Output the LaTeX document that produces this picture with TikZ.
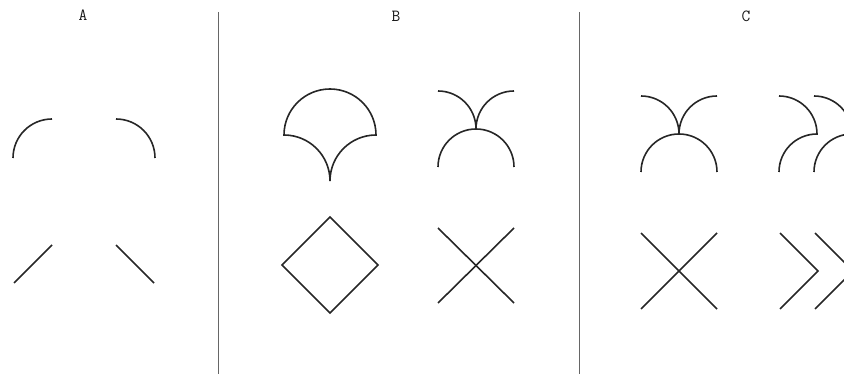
\documentclass[tikz,border=0pt]{standalone}
\usepackage{fontspec}
\setmonofont{Latin Modern Mono}
\begin{document}
\begin{tikzpicture}[x=1pt,y=-1pt,
  figline/.style={draw=black!85,line width=1.6pt,line join=miter},
  divider/.style={draw=black!60,line width=1.2pt},
  lbl/.style={font=\ttfamily\fontsize{17}{17}\selectfont,text=black!90,inner sep=0pt}]
\useasboundingbox (0,0) rectangle (844,374);
\clip (0,0) rectangle (844,374);
% labels
\node[lbl] (la) at (83,15) {A};
\node[lbl] (lb) at (396,16) {B};
\node[lbl] (lc) at (746,16) {C};
% dividers
\draw[divider] (218.5,12) -- (218.5,374);
\draw[divider] (579.5,12) -- (579.5,374);
% Panel A
\draw[figline] (13,158) arc (180:270:39);
\draw[figline] (116,119) arc (270:360:39);
\draw[figline] (14,283) -- (52,245);
\draw[figline] (116,245) -- (154,283);
% Panel B: fan
\draw[figline] (284,135) arc (180:360:46) arc (270:180:46) arc (360:270:46) -- cycle;
% Panel B: arcs
\draw[figline] (438,167) arc (180:360:38);
\draw[figline] (438,91) arc (270:360:38) arc (180:270:38);
% Panel B: diamond
\draw[figline] (330,217) -- (378,265) -- (330,313) -- (282,265) -- cycle;
% Panel B: cross
\draw[figline] (438,228) -- (514,303);
\draw[figline] (514,228) -- (438,303);
% Panel C: arcs
\draw[figline] (641,172) arc (180:360:38);
\draw[figline] (641,96) arc (270:360:38) arc (180:270:38);
% Panel C: double hooks
\draw[figline] (779,96) arc (270:360:38) arc (270:180:38);
\draw[figline] (814,96) arc (270:360:38) arc (270:180:38);
% Panel C: cross
\draw[figline] (641,233) -- (717,309);
\draw[figline] (717,233) -- (641,309);
% Panel C: chevrons
\draw[figline] (780,233) -- (818,271) -- (780,309);
\draw[figline] (815,233) -- (853,271) -- (815,309);
\end{tikzpicture}
\end{document}
